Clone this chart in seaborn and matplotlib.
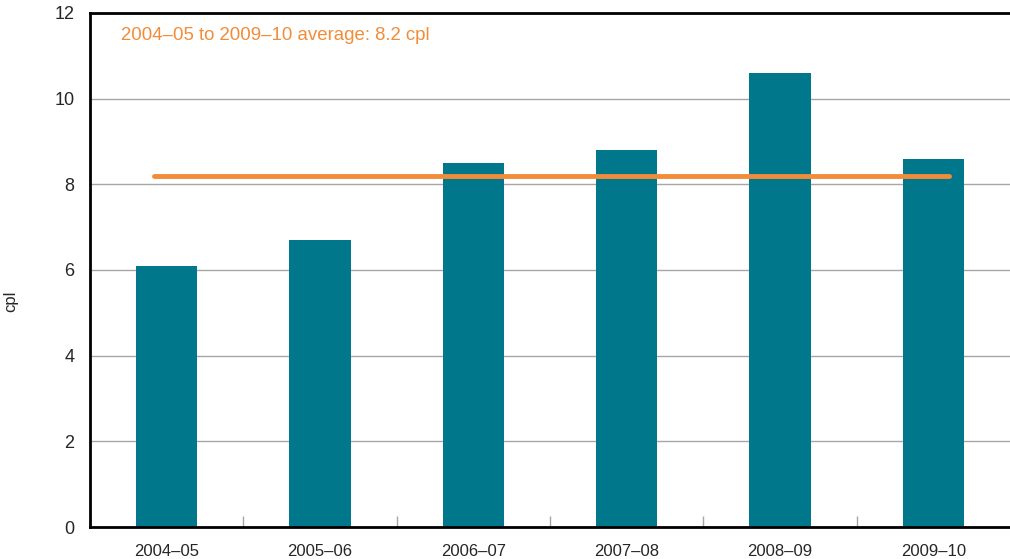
import matplotlib
matplotlib.use("Agg")
from matplotlib import pyplot as plt
import pandas as pd
import seaborn as sns

# Data
years = ["2004–05", "2005–06", "2006–07", "2007–08", "2008–09", "2009–10"]
margin = [6.1, 6.7, 8.5, 8.8, 10.6, 8.6]
average = 8.2

df = pd.DataFrame({"Year": years, "cpl": margin})

sns.set_style("white")
plt.rcParams["font.family"] = ["Liberation Sans", "DejaVu Sans"]

fig = plt.figure(figsize=(10.1, 5.59), dpi=100)
ax = fig.add_axes([0.089, 0.057, 0.911, 0.92])

ax.yaxis.grid(True, color="#a6a6a6", linewidth=1)
ax.set_axisbelow(True)

sns.barplot(data=df, x="Year", y="cpl", color="#00778a", width=0.4,
            saturation=1, linewidth=0, ax=ax)

# average line
ax.plot([-0.08, 5.1], [average, average], color="#f28c38", linewidth=3.5,
        solid_capstyle="round", zorder=5)
ax.text(-0.3, 11.47, "2004–05 to 2009–10 average: 8.2 cpl", color="#f28c38",
        fontsize=13.4, va="center")

ax.set_xlim(-0.5, 5.5)
ax.set_ylim(0, 12)
ax.set_yticks([0, 2, 4, 6, 8, 10, 12])
ax.set_xlabel("")
ax.set_ylabel("cpl", fontsize=12)
ax.yaxis.set_label_coords(-0.078, 0.44)

for side in ["left", "bottom", "top"]:
    ax.spines[side].set_color("black")
    ax.spines[side].set_linewidth(2)
ax.spines["right"].set_visible(False)

ax.tick_params(axis="y", length=0, labelsize=13, pad=11)
ax.tick_params(axis="x", length=0, labelsize=12, pad=12)
ax.set_xticks([0.5, 1.5, 2.5, 3.5, 4.5], minor=True)
ax.tick_params(axis="x", which="minor", bottom=True, direction="in", length=8,
               color="#a6a6a6", width=1)

fig.savefig("out.png", dpi=100)
